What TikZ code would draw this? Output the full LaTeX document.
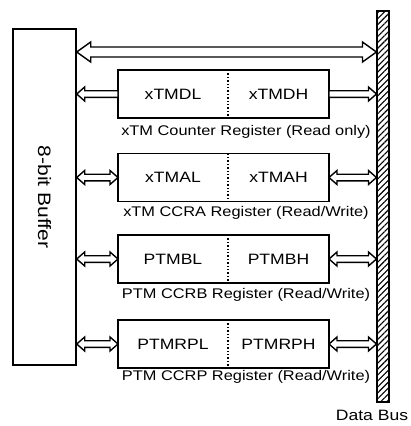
\documentclass[tikz,border=0pt]{standalone}
\usepackage{fontspec}
\setmainfont[FakeStretch=1.17]{Liberation Sans}
\usetikzlibrary{arrows.meta,positioning,calc,patterns.meta}
\tikzset{
  half/.style={minimum height=48pt, inner sep=0pt, outer sep=0pt, font=\fontsize{15}{18}\selectfont},
  lo/.style={half, minimum width=110pt},
  hi/.style={half, minimum width=101pt},
  note/.style={inner sep=0pt, font=\fontsize{14}{16}\selectfont},
  % outlined arrow, heads at both ends: half shaft / head length / half head
  twoway/.style n args={3}{draw, fill=white, to path={
    (\tikztostart) -- ($(\tikztostart)!#2!(\tikztotarget)+(0,#3)$)
    -- ($(\tikztostart)!#2!(\tikztotarget)+(0,#1)$)
    -- ($(\tikztotarget)!#2!(\tikztostart)+(0,#1)$)
    -- ($(\tikztotarget)!#2!(\tikztostart)+(0,#3)$)
    -- (\tikztotarget)
    -- ($(\tikztotarget)!#2!(\tikztostart)+(0,-#3)$)
    -- ($(\tikztotarget)!#2!(\tikztostart)+(0,-#1)$)
    -- ($(\tikztostart)!#2!(\tikztotarget)+(0,-#1)$)
    -- ($(\tikztostart)!#2!(\tikztotarget)+(0,-#3)$) -- cycle}},
  % outlined arrow, head at the target only
  oneway/.style n args={3}{draw, fill=white, to path={
    ($(\tikztostart)+(0,#1)$)
    -- ($(\tikztotarget)!#2!(\tikztostart)+(0,#1)$)
    -- ($(\tikztotarget)!#2!(\tikztostart)+(0,#3)$)
    -- (\tikztotarget)
    -- ($(\tikztotarget)!#2!(\tikztostart)+(0,-#3)$)
    -- ($(\tikztotarget)!#2!(\tikztostart)+(0,-#1)$)
    -- ($(\tikztostart)+(0,-#1)$) -- cycle}},
  wide/.style={twoway={5}{14pt}{10}},
  both/.style={twoway={3.3}{8pt}{7}},
  single/.style={oneway={3.3}{8pt}{7}},
}
\begin{document}
\begin{tikzpicture}[x=1pt,y=-1pt,line width=1.4pt]
\useasboundingbox (0,0) rectangle (410,426);
\node[draw, minimum width=63pt, minimum height=336pt, inner sep=0pt] (buf) at (44.5,197) {};
\node[rotate=-90, font=\fontsize{18}{20}\selectfont] (buftxt) at (buf) {8-bit Buffer};
\node[draw, minimum width=12pt, minimum height=391pt, inner sep=0pt,
  pattern={Lines[angle=45, distance=4.2pt, line width=1.1pt]}] (bus) at (383,206.5) {};
\node[note, font=\fontsize{15}{17}\selectfont] (bustxt) at (372,415) {Data Bus};
\coordinate (top) at (200,52);
\draw[wide] (buf.east |- top) to (bus.west |- top);
% counter register
\node[lo] (dl) at (173,94) {xTMDL};
\node[hi, right=0pt of dl] (dh) {xTMDH};
\draw (dl.north west) rectangle (dh.south east);
\draw[dotted] (dl.north east) -- (dl.south east);
\node[note] (dcap) at (246,132) {xTM Counter Register (Read only)};
\draw[single] (dl.west) to (buf.east |- dl.west);
\draw[single] (dh.east) to (bus.west |- dh.east);
% CCRA
\node[lo] (al) at (173,177.5) {xTMAL};
\node[hi, right=0pt of al] (ah) {xTMAH};
\draw (al.north west) rectangle (ah.south east);
\draw[dotted] (al.north east) -- (al.south east);
\node[note] (acap) at (246,213) {xTM CCRA Register (Read/Write)};
\draw[both] (buf.east |- al.west) to (al.west);
\draw[both] (ah.east) to (bus.west |- ah.east);
% CCRB
\node[lo] (bl) at (173,259) {PTMBL};
\node[hi, right=0pt of bl] (bh) {PTMBH};
\draw (bl.north west) rectangle (bh.south east);
\draw[dotted] (bl.north east) -- (bl.south east);
\node[note] (bcap) at (246,295) {PTM CCRB Register (Read/Write)};
\draw[both] (buf.east |- bl.west) to (bl.west);
\draw[both] (bh.east) to (bus.west |- bh.east);
% CCRP
\node[lo] (rl) at (173,344) {PTMRPL};
\node[hi, right=0pt of rl] (rh) {PTMRPH};
\draw (rl.north west) rectangle (rh.south east);
\draw[dotted] (rl.north east) -- (rl.south east);
\node[note] (rcap) at (246,377) {PTM CCRP Register (Read/Write)};
\draw[both] (buf.east |- rl.west) to (rl.west);
\draw[both] (rh.east) to (bus.west |- rh.east);
\end{tikzpicture}
\end{document}
